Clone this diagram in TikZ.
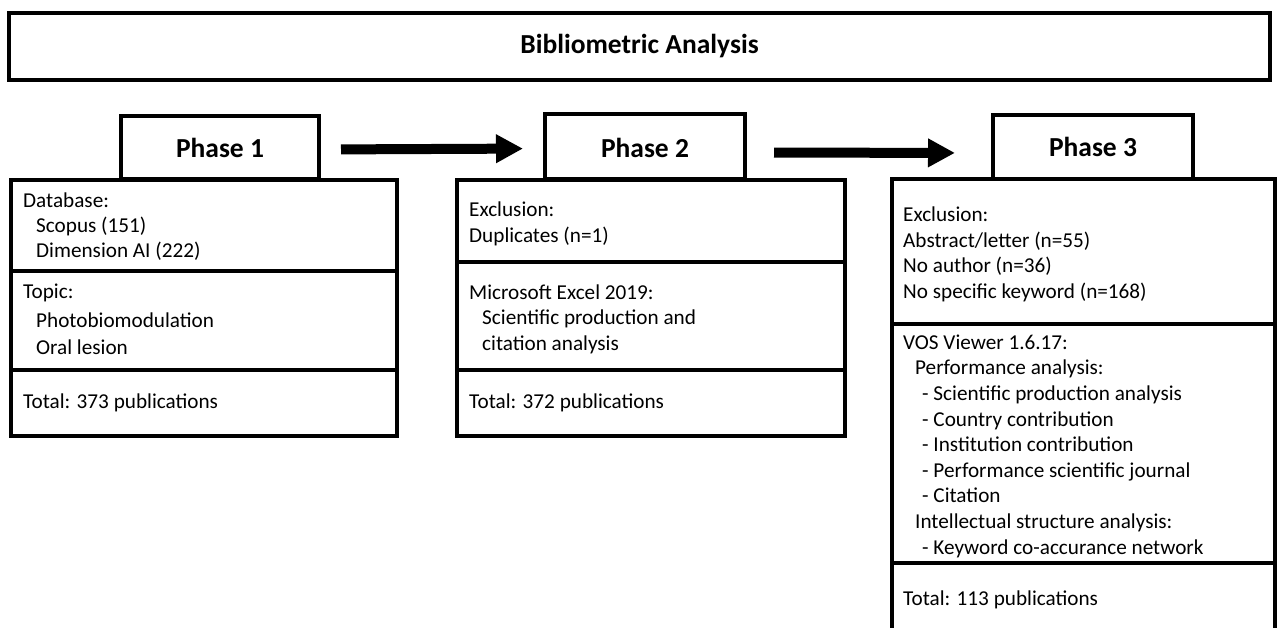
\documentclass[tikz,border=0pt]{standalone}
\usepackage{fontspec}
\setmainfont{Carlito}
\usetikzlibrary{arrows.meta}
\tikzset{
  box/.style={draw=black, line width=4pt, rectangle, inner sep=0pt, fill=white},
  txt/.style={anchor=base west, inner sep=0pt, font=\fontsize{21.2}{25}\selectfont},
  ttl/.style={inner sep=0pt, font=\fontsize{27.5}{32}\selectfont\bfseries},
  bigarrow/.style={line width=10pt, -{Triangle[length=27pt,width=27pt]}},
}
\newcommand{\boxat}[5]{% name, x1, y1, x2, y2
  \node[box, minimum width={#4-#2}, minimum height={#5-#3}] (#1) at ({(#2+#4)/2},{(#3+#5)/2}) {};}
\begin{document}
\begin{tikzpicture}[x=1pt,y=-1pt]
\useasboundingbox (0,0) rectangle (1277,628);
\clip (0,0) rectangle (1277,628);
\fill[white] (0,0) rectangle (1277,628);
% top box
\boxat{top}{9}{13}{1270}{80}
\node[ttl] (toptxt) at (top.center) {Bibliometric Analysis};
% tabs
\boxat{t1}{121}{116}{319}{179}
\boxat{t2}{545}{114}{745}{179}
\boxat{t3}{993}{115}{1193}{179}
\node[ttl] (t1txt) at (t1.center) {Phase 1};
\node[ttl] (t2txt) at ([yshift=-1pt]t2.center) {Phase 2};
\node[ttl] (t3txt) at (t3.center) {Phase 3};
% phase 1 body
\boxat{p1a}{11}{180}{397}{271}
\boxat{p1b}{11}{271}{397}{370}
\boxat{p1c}{11}{370}{397}{436}
% phase 2 body
\boxat{p2a}{457}{180}{845}{262}
\boxat{p2b}{457}{262}{845}{370}
\boxat{p2c}{457}{370}{845}{436}
% phase 3 body
\boxat{p3a}{892}{179}{1275}{324}
\boxat{p3b}{892}{324}{1275}{563}
\boxat{p3c}{892}{563}{1275}{660}
% arrows
\draw[bigarrow, shorten <=20pt, shorten >=20pt] ([yshift=-2pt]t1.east) -- ([yshift=-2pt]t2.west);
\draw[bigarrow, shorten <=27pt, shorten >=36pt] ([yshift=-6pt]t2.east) -- ([yshift=-6pt]t3.west);
% phase 1 text
\node[txt] (a1) at (23,208) {Database:};
\node[txt] (a2) at (36,233) {Scopus (151)};
\node[txt] (a3) at (36,258) {Dimension AI (222)};
\node[txt] (a4) at (23,299) {Topic:};
\node[txt] (a5) at (36,327) {Photobiomodulation};
\node[txt] (a6) at (36,354) {Oral lesion};
\node[txt] (a7) at (23,408) {Total: 373 publications};
% phase 2 text
\node[txt] (b1) at (469,217) {Exclusion:};
\node[txt] (b2) at (469,243) {Duplicates (n=1)};
\node[txt] (b3) at (469,300) {Microsoft Excel 2019:};
\node[txt] (b4) at (482,325) {Scientific production and};
\node[txt] (b5) at (482,350) {citation analysis};
\node[txt] (b6) at (469,408) {Total: 372 publications};
% phase 3 text
\node[txt] (c1) at (903,222) {Exclusion:};
\node[txt] (c2) at (903,248) {Abstract/letter (n=55)};
\node[txt] (c3) at (903,273) {No author (n=36)};
\node[txt] (c4) at (903,299) {No specific keyword (n=168)};
\node[txt] (c5) at (903,349) {VOS Viewer 1.6.17:};
\node[txt] (c6) at (915,374) {Performance analysis:};
\node[txt] (c7) at (922,400) {- Scientific production analysis};
\node[txt] (c8) at (922,426) {- Country contribution};
\node[txt] (c9) at (922,451) {- Institution contribution};
\node[txt] (c10) at (922,477) {- Performance scientific journal};
\node[txt] (c11) at (922,502) {- Citation};
\node[txt] (c12) at (915,528) {Intellectual structure analysis:};
\node[txt] (c13) at (922,554) {- Keyword co-accurance network};
\node[txt] (c14) at (903,605) {Total: 113 publications};
\end{tikzpicture}
\end{document}
